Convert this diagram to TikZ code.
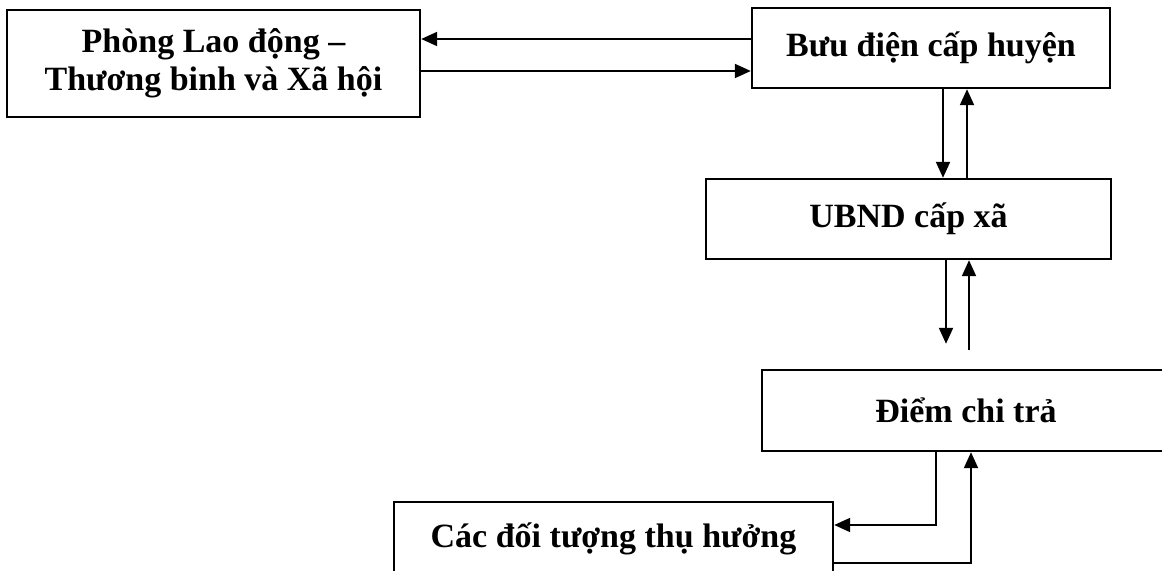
\documentclass[tikz,border=0pt]{standalone}
\usepackage{fontspec}
\setmainfont{Liberation Serif}
\usepackage{tikz}
\usetikzlibrary{arrows.meta}

\begin{document}
\begin{tikzpicture}[
                        ->,
                        >={Triangle[length=8pt,width=7pt]},
                        x=0.5pt, y=-0.5pt,
                        line width=1pt,
                        font=\bfseries\fontsize{17pt}{19pt}\selectfont
                    ]
                    \tikzstyle{unit}=[draw=black,line width=1.2pt,inner sep=0pt,align=center]

                    \useasboundingbox (0,0) rectangle (1162,571);

                    \node[unit,minimum width=206.5pt,minimum height=53.5pt] (phong) at (213.5,63.5) {Phòng Lao động --\\Thương binh và Xã hội};
                    \node[unit,minimum width=179pt,minimum height=40pt]     (buudien) at (931,48)   {Bưu điện cấp huyện};
                    \node[unit,minimum width=202.5pt,minimum height=40pt]   (ubnd) at (908.5,219)   {UBND cấp xã};
                    \node[unit,minimum width=204pt,minimum height=40.5pt]   (diem) at (966,410.5)   {Điểm chi trả};
                    \node[unit,minimum width=219.5pt,minimum height=37pt]   (doituong) at (613.5,539) {Các đối tượng thụ hưởng};

                    % phong <-> buu dien
                    \draw ([yshift=4.5pt]buudien.west) -- ([yshift=4.5pt]buudien.west -| phong.east);
                    \draw ([yshift=-3.75pt]phong.east) -- ([yshift=-3.75pt]phong.east -| buudien.west);

                    % buu dien <-> ubnd
                    \draw ([xshift=6pt]buudien.south) -- ([xshift=6pt]buudien.south |- ubnd.north);
                    \draw ([xshift=18pt]buudien.south |- ubnd.north) -- ([xshift=18pt]buudien.south);

                    % ubnd <-> diem chi tra
                    \draw[shorten >=12.5pt] ([xshift=18.75pt]ubnd.south) -- ([xshift=18.75pt]ubnd.south |- diem.north);
                    \draw[shorten <=9.5pt]  ([xshift=30.25pt]ubnd.south |- diem.north) -- ([xshift=30.25pt]ubnd.south);

                    % diem chi tra <-> doi tuong
                    \draw ([xshift=-15pt]diem.south) |- ([yshift=7pt]doituong.east);
                    \draw ([yshift=-12pt]doituong.east) -| ([xshift=2.5pt]diem.south);
                \end{tikzpicture}
\end{document}
